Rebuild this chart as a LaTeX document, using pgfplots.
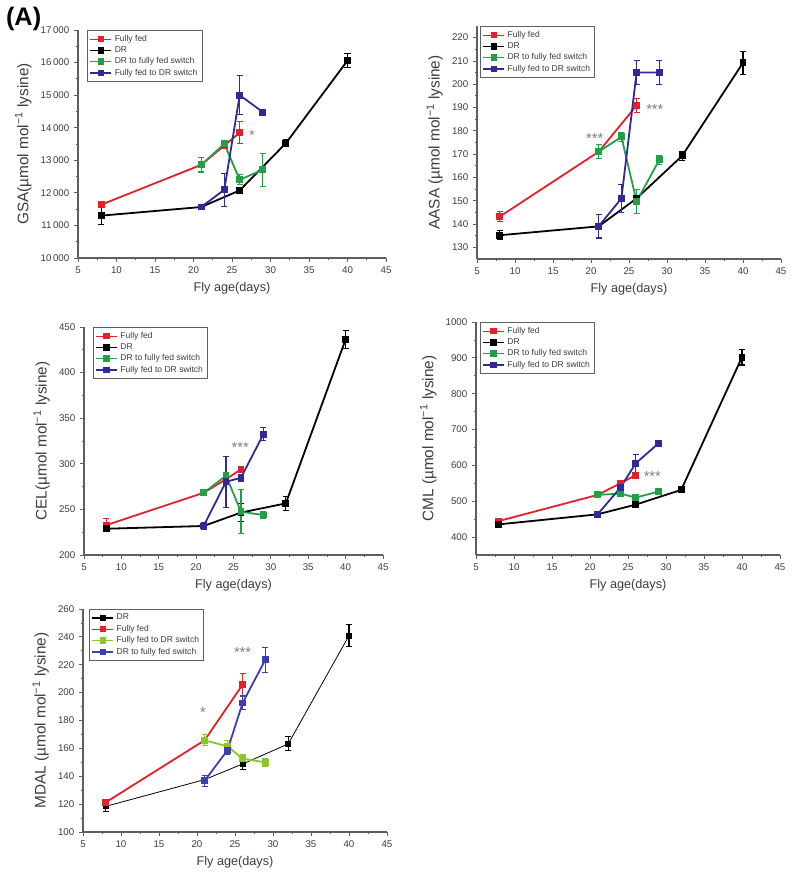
\documentclass[border=0pt]{standalone}
\usepackage{pgfplots}
\pgfplotsset{compat=1.18}
\usepackage{fontspec}
\setmainfont{Liberation Sans}

\definecolor{axisgray}{RGB}{95,95,95}
\definecolor{labgray}{RGB}{60,60,60}
\definecolor{stargray}{RGB}{125,125,125}
\definecolor{ffred}{RGB}{228,32,40}
\definecolor{ggreen}{RGB}{35,160,70}
\definecolor{bblue}{RGB}{48,42,150}
\definecolor{lime}{RGB}{140,198,40}
\definecolor{bblue5}{RGB}{62,62,175}

\tikzset{astnode/.style={font=\fontsize{11}{11}\selectfont, text=stargray, yshift=-2.5pt}}

\pgfplotsset{
  panel/.style={
    scale only axis,
    xmin=5, xmax=45, xtick={5,10,...,45},
    minor x tick num=1, minor y tick num=1,
    scaled y ticks=false,
    axis lines*=left,
    axis line style={draw=axisgray, line width=0.8pt},
    tick align=outside,
    major tick length=3pt, minor tick length=1.5pt,
    every tick/.style={axisgray, line width=0.6pt},
    tick label style={font=\fontsize{7.3}{8}\selectfont, text=labgray},
    /pgf/number format/assume math mode=true,
    xlabel={Fly age(days)},
    xlabel style={font=\fontsize{9.5}{11}\selectfont, text=labgray},
    ylabel style={font=\fontsize{11.5}{13}\selectfont, text=labgray},
    legend cell align=left,
    legend style={at={(0.03,1)}, anchor=north west,
      font=\fontsize{6.4}{7}\selectfont, draw=axisgray, line width=0.6pt,
      inner sep=1.5pt, row sep=-1.6pt, text=labgray},
    legend image code/.code={\draw[mark repeat=2,mark phase=2,#1, line width=0.9pt]
      plot coordinates {(0cm,0cm) (0.28cm,0cm) (0.56cm,0cm)};},
    clip=false,
  },
  ser/.style={color=#1, line width=1.35pt, mark=square*, mark size=1.9pt,
    mark options={solid},
    error bars/.cd, y dir=both, y explicit,
    error bar style={line width=0.8pt},
    error mark options={rotate=90, mark size=2.3pt, line width=0.8pt},
    /pgfplots/.cd},
}

\begin{document}
\begin{tikzpicture}
\useasboundingbox (0,0) rectangle (600pt,659.25pt);
\node[anchor=west, font=\fontsize{19}{19}\selectfont\bfseries] at (1pt,645pt) {(A)};

% GSA
\begin{axis}[panel, at={(58.5pt,465.75pt)}, width=231pt, height=171pt,
  ymin=10000, ymax=17000, ytick={10000,11000,...,17000},
  /pgf/number format/1000 sep={\,},
  ylabel={GSA(µmol mol\textsuperscript{−1} lysine)}]
\addplot[ser=ffred] table[x=x,y=y,y error=e] {
x y e
8 11635 80
21 12860 0
24 13450 0
26 13850 340
};
\addlegendentry{Fully fed}
\addplot[ser=black] table[x=x,y=y,y error=e] {
x y e
8 11300 280
21 11565 0
26 12075 60
32 13525 100
40 16060 210
};
\addlegendentry{DR}
\addplot[ser=ggreen] table[x=x,y=y,y error=e] {
x y e
21 12860 220
24 13505 50
26 12400 150
29 12710 510
};
\addlegendentry{DR to fully fed switch}
\addplot[ser=bblue] table[x=x,y=y,y error=e] {
x y e
21 11565 30
24 12095 510
26 15000 590
29 14480 80
};
\addlegendentry{Fully fed to DR switch}
\node[astnode] at (axis cs:27.6,13870) {*};
\end{axis}

% AASA
\begin{axis}[panel, at={(357.75pt,465pt)}, width=228pt, height=174.75pt,
  ymin=125, ymax=225, ytick={130,140,...,220},
  legend style={at={(0.01,1)}},
  ylabel={AASA (µmol mol\textsuperscript{−1} lysine)}]
\addplot[ser=ffred] table[x=x,y=y,y error=e] {
x y e
8 143.2 2
21 171 0
26 190.9 3
};
\addlegendentry{Fully fed}
\addplot[ser=black] table[x=x,y=y,y error=e] {
x y e
8 135.2 2
21 139 0
26 151 0
32 169.3 2
40 209.2 5
};
\addlegendentry{DR}
\addplot[ser=ggreen] table[x=x,y=y,y error=e] {
x y e
21 171 3
24 177.4 2
26 149.7 5
29 167.6 2
};
\addlegendentry{DR to fully fed switch}
\addplot[ser=bblue] table[x=x,y=y,y error=e] {
x y e
21 139 5
24 151 6
26 205 5
29 205 5
};
\addlegendentry{Fully fed to DR switch}
\node[astnode] at (axis cs:20.5,178.2) {***};
\node[astnode] at (axis cs:28.4,190.7) {***};
\end{axis}

% CEL
\begin{axis}[panel, at={(63pt,243pt)}, width=224.25pt, height=171pt,
  ymin=200, ymax=450, ytick={200,250,...,450},
  ylabel={CEL(µmol mol\textsuperscript{−1} lysine)}]
\addplot[ser=ffred] table[x=x,y=y,y error=e] {
x y e
8 232.8 7
21 268.2 0
24 283 0
26 294 3
};
\addlegendentry{Fully fed}
\addplot[ser=black] table[x=x,y=y,y error=e] {
x y e
8 228.8 3
21 231.8 0
26 246.5 10
32 256.6 8
40 436.5 10
};
\addlegendentry{DR}
\addplot[ser=ggreen] table[x=x,y=y,y error=e] {
x y e
21 268.2 2
24 286.9 4
26 247.4 24
29 243.8 4
};
\addlegendentry{DR to fully fed switch}
\addplot[ser=bblue] table[x=x,y=y,y error=e] {
x y e
21 231.8 4
24 280.3 28
26 284.7 4
29 332.5 7
};
\addlegendentry{Fully fed to DR switch}
\node[astnode] at (axis cs:25.9,322) {***};
\end{axis}

% CML
\begin{axis}[panel, at={(357pt,243pt)}, width=228pt, height=174.75pt,
  ymin=350, ymax=1000, ytick={400,500,...,1000},
  /pgf/number format/1000 sep={},
  legend style={at={(0.013,1)}},
  ylabel={CML (µmol mol\textsuperscript{−1} lysine)}]
\addplot[ser=ffred] table[x=x,y=y,y error=e] {
x y e
8 444.8 0
21 517.6 0
24 550 0
26 572.6 8
};
\addlegendentry{Fully fed}
\addplot[ser=black] table[x=x,y=y,y error=e] {
x y e
8 435.5 5
21 463.4 0
26 490.5 5
32 531.6 5
40 902 22
};
\addlegendentry{DR}
\addplot[ser=ggreen] table[x=x,y=y,y error=e] {
x y e
21 517.6 0
24 521.3 0
26 510.1 8
29 526.9 0
};
\addlegendentry{DR to fully fed switch}
\addplot[ser=bblue] table[x=x,y=y,y error=e] {
x y e
21 463.4 0
24 538 15
26 605.3 25
29 661.3 0
};
\addlegendentry{Fully fed to DR switch}
\node[astnode] at (axis cs:28.2,579) {***};
\end{axis}

% MDAL
\begin{axis}[panel, at={(62.25pt,35.25pt)}, width=228pt, height=167.25pt,
  ymin=100, ymax=260, ytick={100,120,...,260},
  legend style={at={(0.02,1)}},
  ylabel={MDAL (µmol mol\textsuperscript{−1} lysine)}]
\addplot[ser=black, line width=0.6pt] table[x=x,y=y,y error=e] {
x y e
8 118.4 4
21 137.6 0
26 148.8 4
32 163.2 5
40 240.9 8
};
\addlegendentry{DR}
\addplot[ser=ffred] table[x=x,y=y,y error=e] {
x y e
8 121.3 2
21 165.8 0
26 205.7 8
};
\addlegendentry{Fully fed}
\addplot[ser=lime] table[x=x,y=y,y error=e] {
x y e
21 165.8 4
24 161.5 4
26 152.6 3
29 150 3
};
\addlegendentry{Fully fed to DR switch}
\addplot[ser=bblue5] table[x=x,y=y,y error=e] {
x y e
21 136.8 4
24 158.6 3
26 192.6 5
29 223.7 9
};
\addlegendentry{DR to fully fed switch}
\node[astnode] at (axis cs:20.8,188) {*};
\node[astnode] at (axis cs:26,231) {***};
\end{axis}
\end{tikzpicture}
\end{document}
